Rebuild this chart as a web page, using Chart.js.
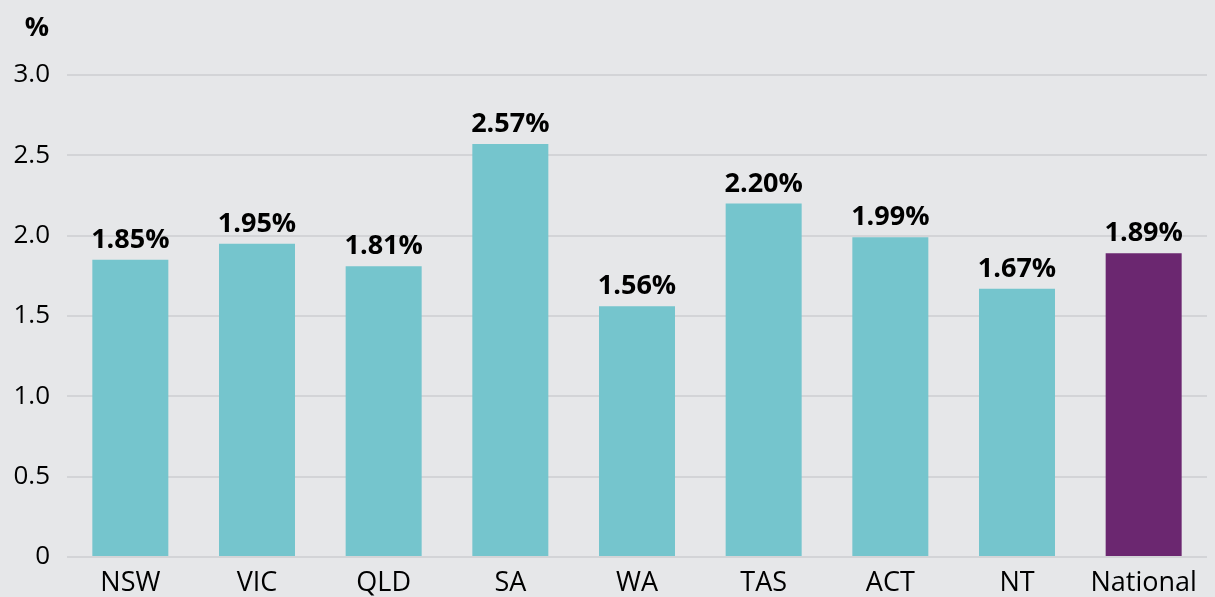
<!DOCTYPE html>
<html>
<head>
<meta charset="utf-8">
<script src="https://cdn.jsdelivr.net/npm/chart.js@4"></script>
<style>
  html, body { margin: 0; padding: 0; background: #e6e7e9; }
  #wrap { width: 1215px; height: 597px; position: relative; }
</style>
</head>
<body>
<div id="wrap"><canvas id="growthChart"></canvas></div>
<script>
// data
const regions = ["NSW", "VIC", "QLD", "SA", "WA", "TAS", "ACT", "NT", "National"];
const growth = [1.85, 1.95, 1.81, 2.57, 1.56, 2.20, 1.99, 1.67, 1.89];
const yTicks = [0, 0.5, 1.0, 1.5, 2.0, 2.5, 3.0];
const unitLabel = "%";

const teal = "#75c5cd";
const purple = "#6b2770";
const fontFamily = "'Open Sans', 'Noto Sans', sans-serif";

// value labels above each bar
const barLabels = {
  id: 'barLabels',
  afterDatasetsDraw(chart) {
    const ctx = chart.ctx;
    const meta = chart.getDatasetMeta(0);
    ctx.save();
    ctx.font = "bold 27px " + fontFamily;
    ctx.fillStyle = "#000";
    ctx.textAlign = "center";
    ctx.textBaseline = "alphabetic";
    meta.data.forEach(function(bar, i) {
      ctx.fillText(growth[i].toFixed(2) + "%", bar.x, bar.y - 12);
    });
    ctx.restore();
  }
};

// "%" unit above the y axis
const unitTitle = {
  id: 'unitTitle',
  afterDraw(chart) {
    const ctx = chart.ctx;
    ctx.save();
    ctx.font = "bold 27px " + fontFamily;
    ctx.fillStyle = "#000";
    ctx.textAlign = "center";
    ctx.textBaseline = "middle";
    ctx.fillText(unitLabel, 37, 28);
    ctx.restore();
  }
};

var ctx = document.getElementById('growthChart').getContext('2d');
new Chart(ctx, {
  type: 'bar',
  data: {
    labels: regions,
    datasets: [{
      data: growth,
      backgroundColor: regions.map(r => r === "National" ? purple : teal),
      categoryPercentage: 1.0,
      barPercentage: 0.6
    }]
  },
  options: {
    responsive: true,
    maintainAspectRatio: false,
    animation: false,
    layout: { padding: { top: 75, right: 8, bottom: 0, left: 0 } },
    plugins: {
      legend: { display: false },
      tooltip: { enabled: false }
    },
    scales: {
      x: {
        afterFit(scale) { scale.height = 40; },
        grid: { display: false },
        border: { display: false },
        ticks: { color: "#000", font: { family: fontFamily, size: 27 }, padding: 2 }
      },
      y: {
        min: 0,
        max: 3.0,
        afterFit(scale) { scale.width = 67; },
        afterBuildTicks(scale) { scale.ticks = yTicks.map(v => ({ value: v })); },
        grid: { color: "#d3d4d7", lineWidth: 2, drawTicks: false },
        border: { display: false },
        ticks: {
          color: "#000",
          font: { family: fontFamily, size: 26 },
          padding: 17,
          callback: v => v === 0 ? "0" : v.toFixed(1)
        }
      }
    }
  },
  plugins: [barLabels, unitTitle]
});
</script>
</body>
</html>
